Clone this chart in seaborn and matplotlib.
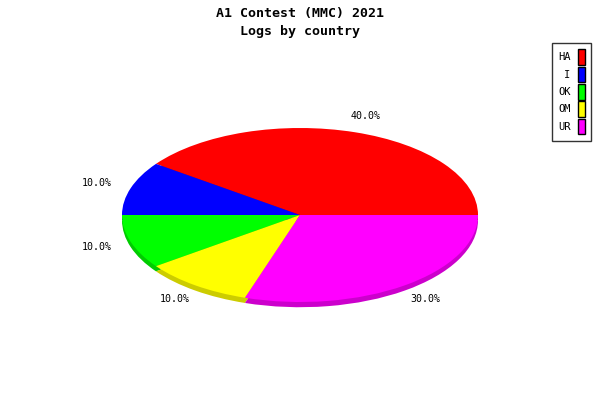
import numpy as np
import pandas as pd
import seaborn as sns
import matplotlib
matplotlib.use("Agg")
import matplotlib.pyplot as plt
from matplotlib.patches import Patch

# logs per country
countries = ["HA", "I", "OK", "OM", "UR"]
logs = [4, 1, 1, 1, 3]
top_colors = ["#ff0000", "#0000ff", "#00ff00", "#ffff00", "#ff00ff"]
side_colors = ["#cc0000", "#0000cc", "#00cc00", "#cccc00", "#cc00cc"]

sns.set_style("white")
plt.rcParams['font.family'] = ['DejaVu Sans Mono']
plt.rcParams['text.color'] = 'black'

fig = plt.figure(figsize=(6, 4), dpi=100)
ax = fig.add_axes([0, 0, 1, 1])

# side of the flat 3d pie (shifted down, drawn first)
ax.pie(logs, colors=side_colors, startangle=0, counterclock=True,
       center=(0, -0.06), radius=1, wedgeprops=dict(linewidth=0))
# top face with percentage labels
ax.pie(logs, colors=top_colors, startangle=0, counterclock=True,
       center=(0, 0), radius=1, wedgeprops=dict(linewidth=0),
       autopct='%1.1f%%', pctdistance=1.2,
       textprops=dict(fontsize=7.2, color='black'))

# squash to ellipse: 178px per unit horizontally, 87px vertically
ax.set_aspect('auto')
ax.set_xlim(-300 / 178, 300 / 178)
ax.set_ylim(-185 / 87, 215 / 87)
ax.axis('off')

fig.text(0.5, 1 - 13 / 400, "A1 Contest (MMC) 2021", ha='center', va='center',
         fontsize=9.5, fontweight='bold', color='black')
fig.text(0.5, 1 - 32 / 400, "Logs by country", ha='center', va='center',
         fontsize=9.5, fontweight='bold', color='black')

handles = [Patch(facecolor=c, edgecolor='black', linewidth=1) for c in top_colors]
leg = fig.legend(handles, countries, loc='upper right',
                 bbox_to_anchor=(591 / 600, 1 - 43 / 400), borderaxespad=0,
                 markerfirst=False, fancybox=False, frameon=True,
                 fontsize=7.5, handlelength=0.65, handleheight=1.95,
                 handletextpad=0.7, labelspacing=0.15, borderpad=0.6)
leg.get_frame().set_edgecolor('black')
leg.get_frame().set_linewidth(1)
for t in leg.get_texts():
    t.set_ha('right')
    t.set_color('black')

fig.savefig("out.png", dpi=100)
